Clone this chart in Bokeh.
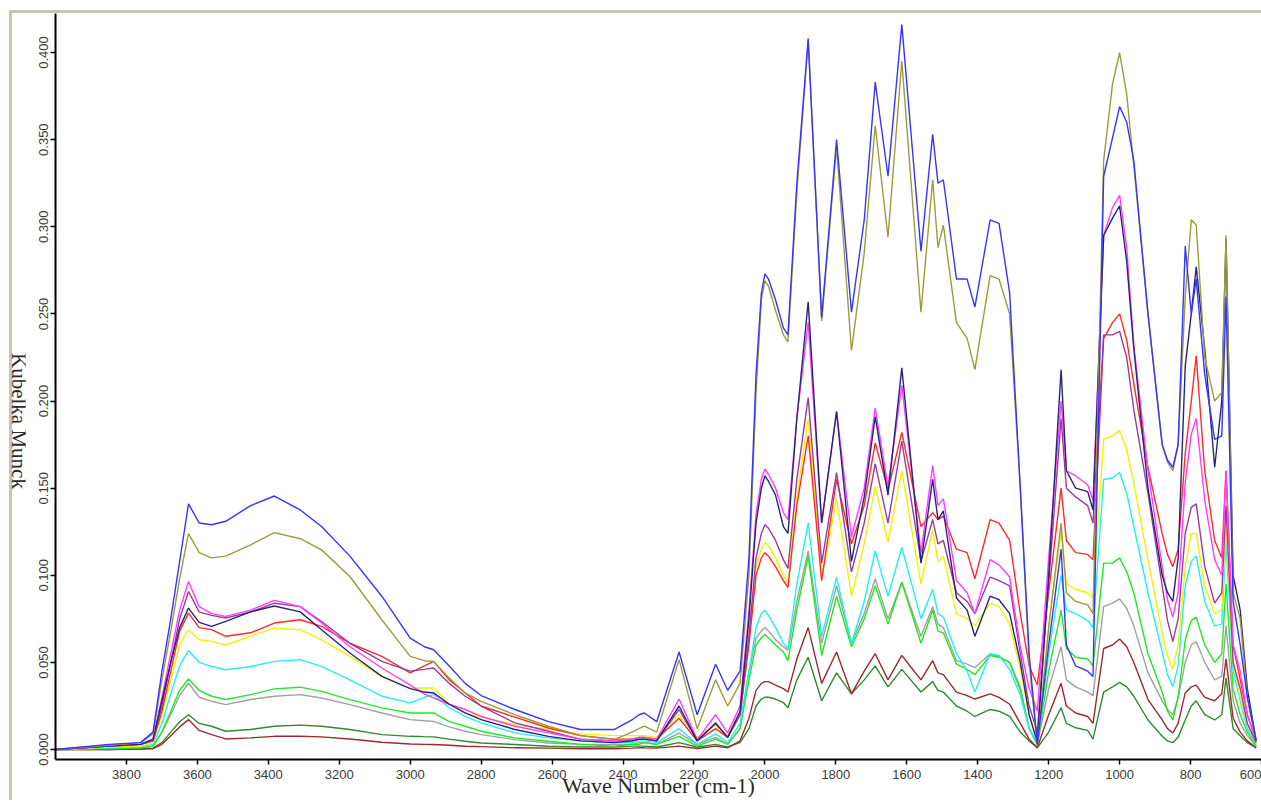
from bokeh.plotting import figure
from bokeh.layouts import row
from bokeh.models import Div, FixedTicker, NumeralTickFormatter
from bokeh.embed import file_html
from bokeh.resources import INLINE

# Wavenumber grid (cm-1) shared by all spectra
WAVENUMBER = [4000, 3850, 3760, 3725, 3700, 3675, 3650, 3625, 3595, 3560,
              3520, 3450, 3383, 3310, 3250, 3170, 3080, 3000, 2960, 2934,
              2890, 2845, 2800, 2705, 2610, 2520, 2425, 2375, 2355, 2340,
              2305, 2242, 2191, 2139, 2105, 2070, 2045, 2025, 2010, 2000, 1990, 1970,
              1948, 1935, 1910, 1878, 1840, 1798, 1756, 1720, 1689, 1653,
              1614, 1560, 1527, 1512, 1497, 1460, 1430, 1408, 1365, 1340,
              1310, 1280, 1255, 1232, 1200, 1165, 1150, 1124, 1090, 1075,
              1045, 1020, 1000, 980, 960, 920, 880, 865, 850, 835, 815, 798, 784,
              760, 732, 712, 700, 680, 660, 640, 615]

# Kubelka-Munck intensities, one list per sample
blue = [0.000, 0.003, 0.004, 0.010, 0.045, 0.075, 0.108, 0.141, 0.130, 0.129,
        0.131, 0.140, 0.1455, 0.1375, 0.128, 0.111, 0.088, 0.064, 0.059, 0.0573,
        0.048, 0.038, 0.031, 0.023, 0.016, 0.0115, 0.0115, 0.017, 0.020, 0.021,
        0.016, 0.056, 0.020, 0.049, 0.034, 0.045, 0.110, 0.215, 0.262, 0.273, 0.270, 0.258,
        0.242, 0.238, 0.325, 0.408, 0.248, 0.350, 0.251, 0.304, 0.383, 0.329,
        0.416, 0.286, 0.353, 0.325, 0.327, 0.270, 0.270, 0.254, 0.304, 0.302,
        0.262, 0.150, 0.055, 0.003, 0.060, 0.115, 0.060, 0.048, 0.045, 0.042,
        0.329, 0.351, 0.369, 0.360, 0.338, 0.250, 0.175, 0.166, 0.162, 0.175, 0.289, 0.250, 0.270,
        0.215, 0.178, 0.180, 0.260, 0.085, 0.060, 0.030, 0.005]

olive = [0.000, 0.0025, 0.004, 0.009, 0.040, 0.068, 0.098, 0.124, 0.113, 0.110,
         0.111, 0.1175, 0.1245, 0.121, 0.1146, 0.0993, 0.0745, 0.0535, 0.051, 0.0506,
         0.041, 0.0325, 0.0277, 0.020, 0.0134, 0.008, 0.0057, 0.010, 0.012, 0.0134,
         0.010, 0.0516, 0.012, 0.040, 0.025, 0.038, 0.100, 0.205, 0.258, 0.269, 0.266, 0.252,
         0.238, 0.234, 0.320, 0.407, 0.246, 0.346, 0.229, 0.285, 0.358, 0.294,
         0.395, 0.251, 0.327, 0.288, 0.301, 0.245, 0.236, 0.218, 0.272, 0.270,
         0.250, 0.150, 0.050, 0.002, 0.070, 0.130, 0.090, 0.085, 0.083, 0.078,
         0.338, 0.382, 0.400, 0.376, 0.335, 0.250, 0.175, 0.165, 0.160, 0.175, 0.260, 0.304, 0.301,
         0.225, 0.200, 0.205, 0.295, 0.090, 0.075, 0.030, 0.005]

magenta = [0.000, 0.002, 0.003, 0.006, 0.030, 0.055, 0.080, 0.0964, 0.082, 0.078,
           0.0764, 0.080, 0.0856, 0.082, 0.0726, 0.059, 0.0468, 0.037, 0.032, 0.0296,
           0.026, 0.023, 0.019, 0.0134, 0.0096, 0.006, 0.005, 0.006, 0.007, 0.007,
           0.006, 0.029, 0.0057, 0.020, 0.0095, 0.025, 0.080, 0.135, 0.155, 0.161, 0.158, 0.150,
           0.136, 0.132, 0.190, 0.245, 0.130, 0.194, 0.122, 0.150, 0.196, 0.151,
           0.209, 0.113, 0.163, 0.140, 0.144, 0.097, 0.090, 0.078, 0.109, 0.106,
           0.099, 0.059, 0.035, 0.022, 0.110, 0.200, 0.160, 0.157, 0.152, 0.143,
           0.295, 0.311, 0.318, 0.288, 0.232, 0.160, 0.105, 0.086, 0.076, 0.090, 0.153, 0.181, 0.190,
           0.143, 0.109, 0.100, 0.160, 0.060, 0.045, 0.020, 0.005]

navy = [0.000, 0.002, 0.003, 0.006, 0.028, 0.050, 0.070, 0.0812, 0.073, 0.0707,
        0.0736, 0.079, 0.0824, 0.079, 0.0688, 0.0554, 0.042, 0.035, 0.033, 0.0325,
        0.026, 0.021, 0.0172, 0.0115, 0.0076, 0.005, 0.004, 0.005, 0.006, 0.006,
        0.005, 0.025, 0.005, 0.0153, 0.007, 0.022, 0.075, 0.130, 0.150, 0.157, 0.154, 0.146,
        0.128, 0.124, 0.190, 0.257, 0.130, 0.194, 0.108, 0.145, 0.191, 0.146,
        0.219, 0.107, 0.155, 0.132, 0.137, 0.087, 0.080, 0.065, 0.088, 0.086,
        0.078, 0.050, 0.020, 0.004, 0.100, 0.218, 0.160, 0.150, 0.148, 0.1375,
        0.295, 0.305, 0.312, 0.280, 0.230, 0.150, 0.100, 0.090, 0.085, 0.110, 0.220, 0.250, 0.277,
        0.230, 0.162, 0.200, 0.293, 0.100, 0.080, 0.035, 0.005]

purple = [0.000, 0.002, 0.003, 0.005, 0.025, 0.050, 0.075, 0.0907, 0.079, 0.077,
          0.0755, 0.079, 0.084, 0.082, 0.0735, 0.061, 0.0506, 0.045, 0.046, 0.0468,
          0.038, 0.0306, 0.025, 0.0153, 0.0105, 0.006, 0.005, 0.005, 0.006, 0.006,
          0.005, 0.023, 0.005, 0.015, 0.007, 0.020, 0.065, 0.110, 0.124, 0.129, 0.127, 0.120,
          0.109, 0.104, 0.155, 0.202, 0.107, 0.159, 0.102, 0.130, 0.164, 0.130,
          0.177, 0.108, 0.132, 0.118, 0.120, 0.090, 0.085, 0.078, 0.099, 0.097,
          0.094, 0.055, 0.025, 0.010, 0.095, 0.190, 0.150, 0.145, 0.140, 0.130,
          0.238, 0.238, 0.240, 0.225, 0.195, 0.147, 0.094, 0.074, 0.062, 0.075, 0.124, 0.139, 0.141,
          0.105, 0.084, 0.090, 0.140, 0.050, 0.035, 0.015, 0.004]

red = [0.000, 0.002, 0.003, 0.005, 0.022, 0.045, 0.068, 0.0783, 0.070, 0.0688,
       0.065, 0.067, 0.0726, 0.0745, 0.0707, 0.061, 0.0535, 0.044, 0.048, 0.0506,
       0.040, 0.0325, 0.025, 0.0186, 0.0124, 0.008, 0.006, 0.006, 0.007, 0.007,
       0.006, 0.018, 0.005, 0.012, 0.007, 0.020, 0.060, 0.100, 0.110, 0.113, 0.111, 0.105,
       0.097, 0.093, 0.140, 0.180, 0.097, 0.155, 0.118, 0.140, 0.176, 0.149,
       0.182, 0.128, 0.136, 0.132, 0.134, 0.115, 0.113, 0.098, 0.132, 0.130,
       0.120, 0.078, 0.048, 0.037, 0.090, 0.150, 0.120, 0.113, 0.112, 0.109,
       0.236, 0.245, 0.250, 0.235, 0.210, 0.162, 0.124, 0.112, 0.105, 0.115, 0.170, 0.200, 0.226,
       0.160, 0.120, 0.110, 0.160, 0.060, 0.040, 0.020, 0.005]

yellow = [0.000, 0.0015, 0.002, 0.004, 0.020, 0.040, 0.060, 0.0688, 0.063, 0.0621,
          0.060, 0.065, 0.0697, 0.0688, 0.063, 0.0535, 0.042, 0.0353, 0.0353, 0.0353,
          0.026, 0.021, 0.0186, 0.0143, 0.0115, 0.009, 0.008, 0.008, 0.008, 0.008,
          0.007, 0.020, 0.007, 0.014, 0.008, 0.020, 0.065, 0.105, 0.115, 0.119, 0.117, 0.110,
          0.100, 0.095, 0.145, 0.190, 0.098, 0.144, 0.088, 0.118, 0.151, 0.119,
          0.160, 0.095, 0.126, 0.108, 0.111, 0.078, 0.075, 0.071, 0.084, 0.082,
          0.072, 0.046, 0.020, 0.006, 0.070, 0.125, 0.095, 0.092, 0.090, 0.087,
          0.178, 0.180, 0.183, 0.172, 0.153, 0.109, 0.067, 0.054, 0.046, 0.060, 0.105, 0.124, 0.124,
          0.094, 0.078, 0.080, 0.130, 0.050, 0.030, 0.015, 0.004]

cyan = [0.000, 0.001, 0.0015, 0.003, 0.015, 0.032, 0.048, 0.0569, 0.050, 0.0477,
        0.0458, 0.0477, 0.0506, 0.0516, 0.0477, 0.040, 0.0306, 0.0268, 0.030, 0.0315,
        0.024, 0.0191, 0.0153, 0.0096, 0.0067, 0.005, 0.004, 0.004, 0.005, 0.005,
        0.004, 0.012, 0.003, 0.009, 0.004, 0.015, 0.045, 0.070, 0.078, 0.080, 0.077, 0.070,
        0.061, 0.058, 0.095, 0.130, 0.065, 0.099, 0.061, 0.085, 0.114, 0.088,
        0.116, 0.075, 0.092, 0.078, 0.076, 0.055, 0.045, 0.033, 0.055, 0.054,
        0.046, 0.031, 0.012, 0.004, 0.055, 0.100, 0.080, 0.078, 0.074, 0.070,
        0.155, 0.156, 0.159, 0.147, 0.128, 0.090, 0.056, 0.043, 0.036, 0.048, 0.094, 0.108, 0.111,
        0.085, 0.071, 0.072, 0.120, 0.045, 0.028, 0.012, 0.003]

lime = [0.000, 0.0005, 0.001, 0.002, 0.010, 0.022, 0.034, 0.0405, 0.034, 0.0306,
        0.0287, 0.0315, 0.0348, 0.0358, 0.0334, 0.0287, 0.0239, 0.021, 0.021, 0.021,
        0.016, 0.0134, 0.0105, 0.0067, 0.0048, 0.003, 0.002, 0.003, 0.003, 0.004,
        0.003, 0.0076, 0.002, 0.006, 0.003, 0.012, 0.040, 0.060, 0.064, 0.066, 0.064, 0.060,
        0.056, 0.051, 0.080, 0.111, 0.054, 0.088, 0.059, 0.075, 0.094, 0.072,
        0.096, 0.061, 0.080, 0.068, 0.067, 0.049, 0.046, 0.043, 0.054, 0.053,
        0.050, 0.034, 0.012, 0.003, 0.045, 0.080, 0.058, 0.053, 0.052, 0.048,
        0.107, 0.107, 0.110, 0.102, 0.090, 0.055, 0.033, 0.022, 0.017, 0.030, 0.063, 0.074, 0.076,
        0.060, 0.050, 0.055, 0.095, 0.035, 0.020, 0.010, 0.002]

gray = [0.000, 0.0005, 0.001, 0.002, 0.010, 0.020, 0.031, 0.0382, 0.030, 0.0277,
        0.0258, 0.0287, 0.0306, 0.0315, 0.0296, 0.0258, 0.021, 0.0172, 0.0165, 0.0162,
        0.013, 0.0105, 0.0086, 0.0057, 0.0038, 0.003, 0.003, 0.003, 0.004, 0.004,
        0.003, 0.0095, 0.003, 0.007, 0.003, 0.012, 0.045, 0.064, 0.068, 0.070, 0.068, 0.063,
        0.059, 0.057, 0.085, 0.114, 0.061, 0.094, 0.061, 0.078, 0.098, 0.075,
        0.096, 0.065, 0.082, 0.072, 0.070, 0.051, 0.049, 0.047, 0.055, 0.053,
        0.050, 0.036, 0.012, 0.003, 0.035, 0.059, 0.040, 0.036, 0.033, 0.031,
        0.082, 0.084, 0.0865, 0.081, 0.071, 0.044, 0.028, 0.023, 0.020, 0.030, 0.050, 0.060, 0.062,
        0.050, 0.040, 0.042, 0.071, 0.028, 0.015, 0.008, 0.002]

darkgreen = [0.000, 0.000, 0.0005, 0.0008, 0.004, 0.010, 0.016, 0.020, 0.015, 0.0134,
             0.0105, 0.0115, 0.0134, 0.014, 0.0134, 0.0115, 0.0086, 0.0076, 0.0074, 0.0073,
             0.006, 0.0048, 0.0038, 0.0029, 0.0019, 0.0015, 0.0015, 0.002, 0.002, 0.002,
             0.0015, 0.004, 0.0015, 0.003, 0.0015, 0.004, 0.012, 0.025, 0.029, 0.030, 0.030, 0.029,
             0.027, 0.024, 0.040, 0.053, 0.028, 0.044, 0.032, 0.040, 0.048, 0.036,
             0.046, 0.033, 0.039, 0.034, 0.033, 0.025, 0.022, 0.019, 0.023, 0.022,
             0.019, 0.010, 0.005, 0.001, 0.010, 0.024, 0.015, 0.0125, 0.011, 0.006,
             0.033, 0.036, 0.0386, 0.036, 0.0306, 0.017, 0.0076, 0.005, 0.004, 0.007, 0.017, 0.025, 0.028,
             0.020, 0.017, 0.020, 0.041, 0.012, 0.008, 0.004, 0.001]

maroon = [0.000, 0.000, 0.0003, 0.0005, 0.003, 0.008, 0.013, 0.0172, 0.011, 0.0086,
          0.0061, 0.0067, 0.0076, 0.0076, 0.0073, 0.0061, 0.0042, 0.0032, 0.003, 0.0029,
          0.0025, 0.0019, 0.0017, 0.001, 0.0008, 0.0005, 0.0005, 0.0008, 0.001, 0.001,
          0.0008, 0.002, 0.0006, 0.002, 0.001, 0.005, 0.018, 0.034, 0.038, 0.039, 0.039, 0.037,
          0.035, 0.033, 0.052, 0.070, 0.038, 0.056, 0.032, 0.045, 0.055, 0.040,
          0.054, 0.040, 0.051, 0.044, 0.043, 0.033, 0.031, 0.029, 0.032, 0.030,
          0.026, 0.015, 0.006, 0.001, 0.020, 0.038, 0.025, 0.021, 0.019, 0.015,
          0.058, 0.060, 0.0635, 0.059, 0.050, 0.0287, 0.017, 0.012, 0.0095, 0.015, 0.0325, 0.036, 0.037,
          0.030, 0.028, 0.032, 0.052, 0.018, 0.010, 0.005, 0.001]

X_TICKS = [3800, 3600, 3400, 3200, 3000, 2800, 2600, 2400, 2200, 2000,
           1800, 1600, 1400, 1200, 1000, 800, 600]
Y_TICKS = [0.000, 0.050, 0.100, 0.150, 0.200, 0.250, 0.300, 0.350, 0.400]

series = [
    (gray, "#a0a0a0"),
    (darkgreen, "#2f8a2f"),
    (maroon, "#9b2a2a"),
    (lime, "#22e822"),
    (cyan, "#22f0f0"),
    (yellow, "#f2f200"),
    (red, "#ff2a2a"),
    (purple, "#9a3c9a"),
    (magenta, "#ff3cff"),
    (navy, "#25257a"),
    (olive, "#9e9a3a"),
    (blue, "#3535ff"),
]

for vals, _ in series:
    assert len(vals) == len(WAVENUMBER)

p = figure(width=1236, height=787,
           x_range=(4000, 600), y_range=(-0.0057, 0.4224),
           output_backend="svg", toolbar_location=None,
           min_border_left=30, min_border_right=0,
           min_border_top=0, min_border_bottom=40)
p.outline_line_color = None
p.grid.visible = False
p.background_fill_color = "white"
p.border_fill_color = "white"

for vals, col in series:
    p.line(WAVENUMBER, vals, line_color=col, line_width=1.4)

for ax in (p.xaxis[0], p.yaxis[0]):
    ax.axis_line_width = 2
    ax.axis_line_color = "black"
    ax.major_tick_line_color = "black"
    ax.major_tick_line_width = 1.5
    ax.major_tick_in = 0
    ax.major_tick_out = 5
    ax.minor_tick_line_color = None
    ax.major_label_text_font = "Liberation Sans"
    ax.major_label_text_font_size = "13px"
    ax.major_label_text_color = "#3a3a3a"

xax = p.xaxis[0]
xax.ticker = FixedTicker(ticks=X_TICKS)
xax.major_label_standoff = 5
xax.axis_label = "Wave Number (cm-1)"
xax.axis_label_text_font = "Liberation Serif"
xax.axis_label_text_font_style = "normal"
xax.axis_label_text_color = "#2a2a2a"
xax.axis_label_text_font_size = "22px"
xax.axis_label_standoff = -9

yax = p.yaxis[0]
yax.ticker = FixedTicker(ticks=Y_TICKS)
yax.formatter = NumeralTickFormatter(format="0.000")
yax.major_label_orientation = "vertical"
yax.major_label_standoff = 2

# y-axis title, written top-to-bottom beside the axis
ytitle = Div(text="Kubelka Munck", width=13, height=787, margin=0,
             styles={"writing-mode": "vertical-rl",
                     "font-family": "'Liberation Serif', serif",
                     "font-size": "21px",
                     "color": "#2a2a2a",
                     "text-align": "center",
                     "line-height": "13px",
                     "white-space": "nowrap",
                     "box-sizing": "border-box",
                     "padding-top": "28px"})

layout = row(ytitle, p, spacing=0,
             styles={"margin-left": "9px", "margin-top": "10px",
                     "border-top": "3px solid #c9c5b3",
                     "border-left": "3px solid #c9c5b3"})

open("out.html", "w").write(file_html(layout, INLINE))
